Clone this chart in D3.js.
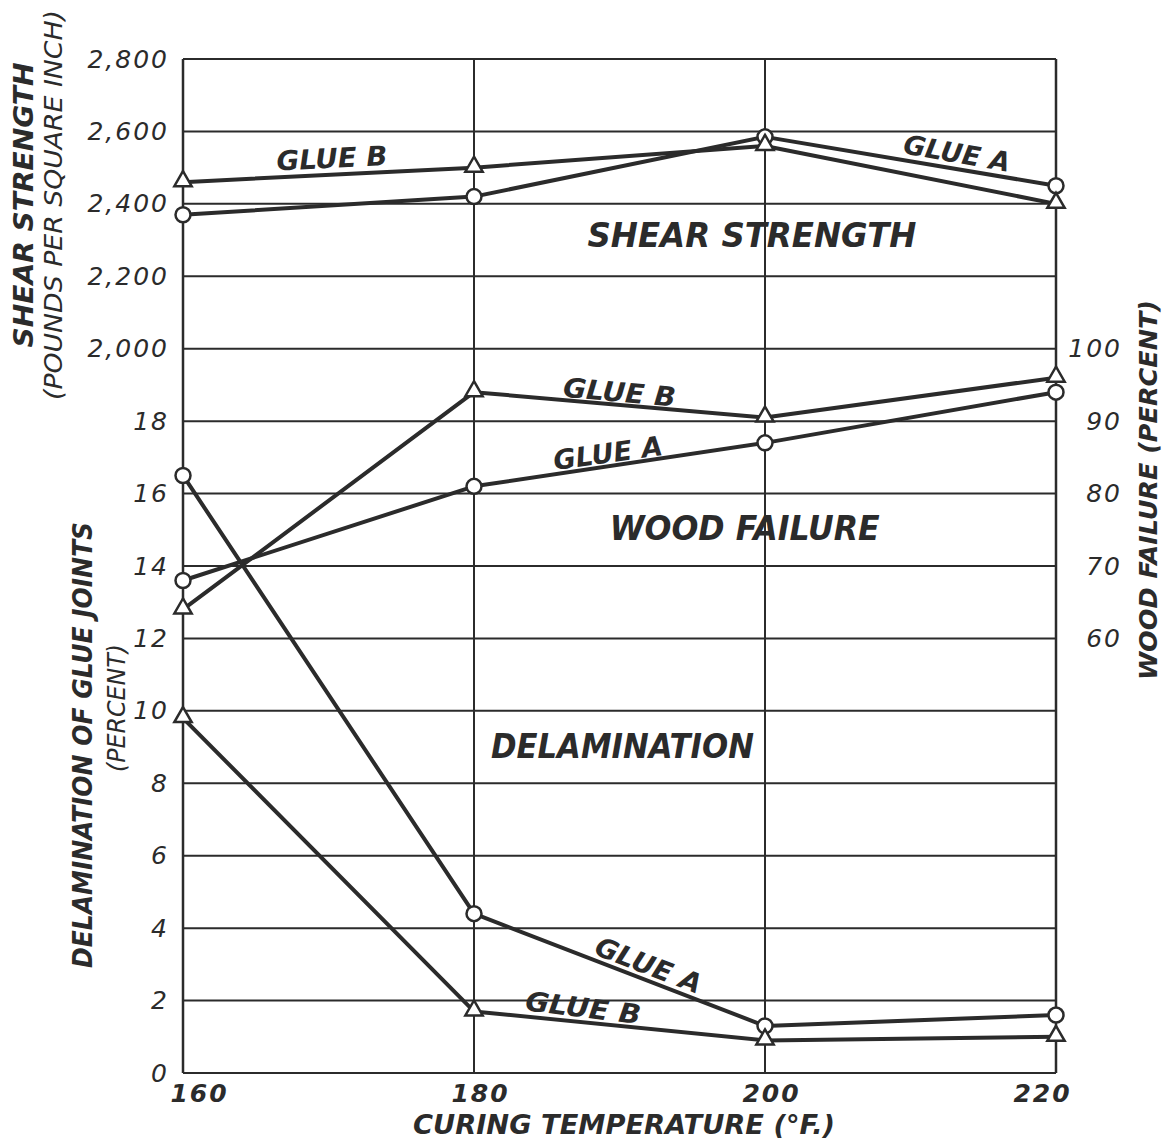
<!DOCTYPE html>
<html>
<head>
<meta charset="utf-8">
<script src="https://cdn.jsdelivr.net/npm/d3@7"></script>
<style>
  html, body { margin: 0; padding: 0; background: #ffffff; }
  svg { display: block; }
  text { font-family: "DejaVu Sans", sans-serif; font-style: italic; fill: #2b2b2b; }
</style>
</head>
<body>
<svg id="chart" width="1162" height="1143"></svg>
<script>
// ---- data ----
const temps = [160, 180, 200, 220];
const shearTicks = [2000, 2200, 2400, 2600, 2800];
const delamTicks = [0, 2, 4, 6, 8, 10, 12, 14, 16, 18];
const woodTicks = [60, 70, 80, 90, 100];
const shearA = [2370, 2420, 2585, 2450];
const shearB = [2460, 2500, 2560, 2400];
const woodA = [68, 81, 87, 94];
const woodB = [64, 94, 90.5, 96];
const delamA = [16.5, 4.4, 1.3, 1.6];
const delamB = [9.8, 1.7, 0.9, 1.0];

// ---- layout ----
const svg = d3.select("#chart");
const X0 = 183, X1 = 1056, Y0 = 1073, Y1 = 59;
const ink = "#2b2b2b";

const x = d3.scaleLinear().domain([160, 220]).range([X0, X1]);
const u = d3.scaleLinear().domain([0, 14]).range([Y0, Y1]);          // grid units
const yShear = d3.scaleLinear().domain([2000, 2800]).range([u(10), u(14)]);
const yDelam = d3.scaleLinear().domain([0, 18]).range([u(0), u(9)]);
const yWood = d3.scaleLinear().domain([60, 100]).range([u(6), u(10)]);

// ---- grid ----
const g = svg.append("g");
g.selectAll("line.h").data(d3.range(0, 15)).join("line")
  .attr("x1", X0).attr("x2", X1)
  .attr("y1", d => u(d)).attr("y2", d => u(d))
  .attr("stroke", ink).attr("stroke-width", 2);
g.selectAll("line.v").data(temps).join("line")
  .attr("x1", d => x(d)).attr("x2", d => x(d))
  .attr("y1", Y1).attr("y2", Y0)
  .attr("stroke", ink).attr("stroke-width", d => (d === 160 || d === 220) ? 2.5 : 2);

// ---- axes (labels only) ----
function styleAxis(sel) {
  sel.select(".domain").remove();
  sel.selectAll(".tick line").remove();
  sel.selectAll(".tick text")
    .attr("fill", ink)
    .style("font-family", '"DejaVu Sans", sans-serif')
    .style("font-style", "italic")
    .style("font-size", "25px")
    .style("letter-spacing", "2px");
}
svg.append("g").attr("transform", `translate(${X0 - 14},0)`)
  .call(d3.axisLeft(yShear).tickValues(shearTicks).tickSize(0).tickPadding(0).tickFormat(d3.format(",")))
  .call(styleAxis);
svg.append("g").attr("transform", `translate(${X0 - 14},0)`)
  .call(d3.axisLeft(yDelam).tickValues(delamTicks).tickSize(0).tickPadding(0).tickFormat(d3.format("d")))
  .call(styleAxis);
svg.append("g").attr("transform", `translate(${X1 + 66},0)`)
  .call(d3.axisLeft(yWood).tickValues(woodTicks).tickSize(0).tickPadding(0).tickFormat(d3.format("d")))
  .call(styleAxis);
const xAx = svg.append("g").attr("transform", `translate(0,${Y0 + 10})`)
  .call(d3.axisBottom(x).tickValues(temps).tickSize(0).tickPadding(0).tickFormat(d3.format("d")))
  .call(styleAxis);
xAx.selectAll(".tick text")
  .attr("dy", "0.75em")
  .attr("dx", d => d === 160 ? 16 : d === 220 ? -14 : 6)
  .style("font-weight", "bold");

// ---- series ----
const line = d3.line();
function drawSeries(vals, yScale, marker) {
  const pts = temps.map((t, i) => [x(t), yScale(vals[i])]);
  svg.append("path").attr("d", line(pts))
    .attr("fill", "none").attr("stroke", ink).attr("stroke-width", 4)
    .attr("stroke-linejoin", "round");
  const m = svg.append("g");
  if (marker === "circle") {
    m.selectAll("circle").data(pts).join("circle")
      .attr("cx", d => d[0]).attr("cy", d => d[1]).attr("r", 7.5)
      .attr("fill", "#fff").attr("stroke", ink).attr("stroke-width", 2.5);
  } else {
    const tri = d3.symbol().type(d3.symbolTriangle).size(130);
    m.selectAll("path").data(pts).join("path")
      .attr("d", tri)
      .attr("transform", d => `translate(${d[0]},${d[1] - 1})`)
      .attr("fill", "#fff").attr("stroke", ink).attr("stroke-width", 2.5);
  }
}
drawSeries(shearA, yShear, "circle");
drawSeries(shearB, yShear, "triangle");
drawSeries(woodA, yWood, "circle");
drawSeries(woodB, yWood, "triangle");
drawSeries(delamA, yDelam, "circle");
drawSeries(delamB, yDelam, "triangle");

// ---- annotations (positioned in data coordinates: temperature, grid units) ----
const notes = [
  { text: "GLUE B", t: 170.24, g: 12.63, rot: -3, len: 111, fs: 27 },
  { text: "GLUE A", t: 213.2, g: 12.70, rot: 10, len: 108, fs: 27 },
  { text: "SHEAR  STRENGTH", t: 199.1, g: 11.56, rot: 0, len: 329, fs: 33 },
  { text: "GLUE B", t: 190.0, g: 9.40, rot: 5, len: 113, fs: 27 },
  { text: "GLUE A", t: 189.2, g: 8.56, rot: -8, len: 110, fs: 27 },
  { text: "WOOD  FAILURE", t: 198.6, g: 7.52, rot: 0, len: 270, fs: 33 },
  { text: "DELAMINATION", t: 190.2, g: 4.51, rot: 0, len: 263, fs: 34 },
  { text: "GLUE A", t: 192.0, g: 1.49, rot: 21, len: 112, fs: 27 },
  { text: "GLUE B", t: 187.5, g: 0.90, rot: 7, len: 116, fs: 27 }
];
svg.append("g").selectAll("text").data(notes).join("text")
  .attr("transform", d => `translate(${x(d.t)},${u(d.g)}) rotate(${d.rot})`)
  .attr("text-anchor", "middle").attr("dominant-baseline", "central")
  .attr("textLength", d => d.len).attr("lengthAdjust", "spacingAndGlyphs")
  .style("font-weight", "bold").style("font-size", d => d.fs + "px")
  .text(d => d.text);

// ---- axis titles ----
const titles = [
  { text: "SHEAR  STRENGTH", cx: 23, cy: 205, rot: -90, len: 285, fs: 27, w: "bold" },
  { text: "(POUNDS PER SQUARE INCH)", cx: 54, cy: 205, rot: -90, len: 390, fs: 24, w: "normal" },
  { text: "DELAMINATION OF GLUE JOINTS", cx: 83, cy: 745, rot: -90, len: 446, fs: 26, w: "bold" },
  { text: "(PERCENT)", cx: 117, cy: 708, rot: -90, len: 128, fs: 24, w: "normal" },
  { text: "WOOD  FAILURE  (PERCENT)", cx: 1148, cy: 490, rot: -90, len: 380, fs: 25, w: "bold" },
  { text: "CURING  TEMPERATURE  (°F.)", cx: 624, cy: 1125, rot: 0, len: 422, fs: 26, w: "bold" }
];
svg.append("g").selectAll("text").data(titles).join("text")
  .attr("transform", d => `translate(${d.cx},${d.cy}) rotate(${d.rot})`)
  .attr("text-anchor", "middle").attr("dominant-baseline", "central")
  .attr("textLength", d => d.len).attr("lengthAdjust", "spacingAndGlyphs")
  .style("font-weight", d => d.w).style("font-size", d => d.fs + "px")
  .text(d => d.text);
</script>
</body>
</html>
